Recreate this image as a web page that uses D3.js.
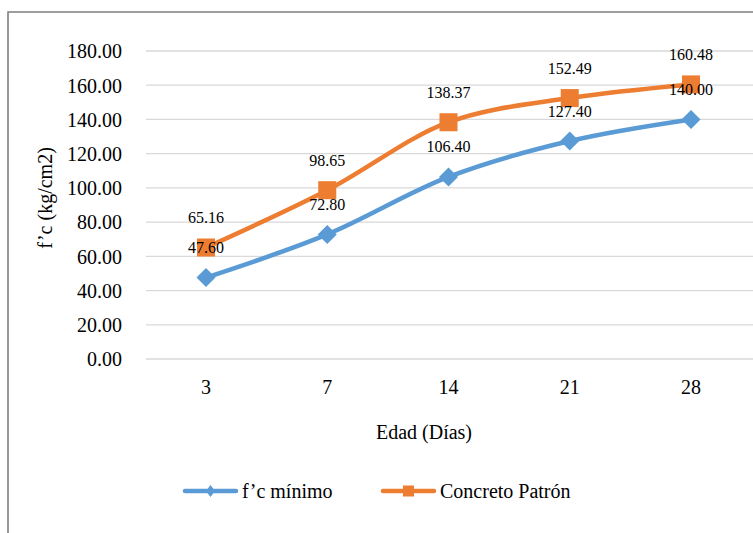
<!DOCTYPE html>
<html>
<head>
<meta charset="utf-8">
<script src="https://cdn.jsdelivr.net/npm/d3@7/dist/d3.min.js"></script>
<style>
  html, body { margin: 0; padding: 0; background: #fff; }
  svg { display: block; }
  svg text { font-family: "Liberation Serif", Tinos, "Times New Roman", "DejaVu Serif", serif; fill: #000; }
</style>
</head>
<body>
<svg id="chart" width="753" height="533"></svg>
<script>
// Compressive strength by curing age
const ages = ["3", "7", "14", "21", "28"];
const fcMinimo = [47.60, 72.80, 106.40, 127.40, 140.00];
const concretoPatron = [65.16, 98.65, 138.37, 152.49, 160.48];
const yTicks = [0, 20, 40, 60, 80, 100, 120, 140, 160, 180];
const seriesNames = ["f’c mínimo", "Concreto Patrón"];
const seriesColors = ["#5B9BD5", "#ED7D31"];

const FONT = "'Liberation Serif', Tinos, 'Times New Roman', 'DejaVu Serif', serif";
const svg = d3.select("#chart");

// outer chart frame
svg.append("path")
  .attr("d", "M8,533 L8,12 L753,12")
  .attr("fill", "none")
  .attr("stroke", "#7f7f7f")
  .attr("stroke-width", 1.6);

const x = d3.scaleBand().domain(ages).range([145.4, 751.6]);
const y = d3.scaleLinear().domain([0, 180]).range([359, 51]);
const cx = d => x(d) + x.bandwidth() / 2;

// horizontal gridlines
svg.append("g").selectAll("line").data(yTicks).join("line")
  .attr("x1", 146).attr("x2", 753)
  .attr("y1", d => y(d)).attr("y2", d => y(d))
  .attr("stroke", "#d9d9d9").attr("stroke-width", 1.3);

// y axis tick labels
const yAxis = d3.axisLeft(y).tickValues(yTicks).tickFormat(d3.format(".2f")).tickSize(0).tickPadding(0);
const yg = svg.append("g").attr("transform", "translate(122,0)").call(yAxis)
  .attr("font-family", FONT);
yg.select(".domain").remove();
yg.selectAll("text")
  .style("font-family", FONT)
  .attr("font-size", 20).attr("fill", "#000").attr("dy", "0.34em");

// x axis tick labels
const xAxis = d3.axisBottom(x).tickSize(0).tickPadding(0);
const xg = svg.append("g").attr("transform", "translate(0,359)").call(xAxis)
  .attr("font-family", FONT);
xg.select(".domain").remove();
xg.selectAll("text")
  .style("font-family", FONT)
  .attr("font-size", 20).attr("fill", "#000").attr("y", 0).attr("dy", 35);

// axis titles
svg.append("text")
  .attr("transform", "translate(52,198) rotate(-90)")
  .attr("text-anchor", "middle")
  .attr("font-size", 20)
  .text("f’c (kg/cm2)");

svg.append("text")
  .attr("x", 424).attr("y", 439)
  .attr("text-anchor", "middle")
  .attr("font-size", 20)
  .text("Edad (Días)");

const line = d3.line()
  .x((d, i) => cx(ages[i]))
  .y(d => y(d))
  .curve(d3.curveCatmullRom.alpha(0.5));

const allSeries = [fcMinimo, concretoPatron];

allSeries.forEach((vals, s) => {
  svg.append("path")
    .datum(vals)
    .attr("d", line)
    .attr("fill", "none")
    .attr("stroke", seriesColors[s])
    .attr("stroke-width", 4.5)
    .attr("stroke-linejoin", "round")
    .attr("stroke-linecap", "round");
});

// markers
svg.append("g").selectAll("path").data(fcMinimo).join("path")
  .attr("d", (d, i) => {
    const px = cx(ages[i]), py = y(d), r = 9.5;
    return `M${px},${py - r}L${px + r},${py}L${px},${py + r}L${px - r},${py}Z`;
  })
  .attr("fill", seriesColors[0]);

svg.append("g").selectAll("rect").data(concretoPatron).join("rect")
  .attr("x", (d, i) => cx(ages[i]) - 9)
  .attr("y", d => y(d) - 9)
  .attr("width", 18).attr("height", 18)
  .attr("fill", seriesColors[1]);

// data labels
allSeries.forEach((vals, s) => {
  svg.append("g").selectAll("text").data(vals).join("text")
    .attr("x", (d, i) => cx(ages[i]))
    .attr("y", d => y(d) - 24.5)
    .attr("text-anchor", "middle")
    .attr("font-size", 16)
    .text(d => d.toFixed(2));
});

// legend
const legend = [
  { x0: 183, tx: 242 },
  { x0: 381, tx: 440 }
];
legend.forEach((L, s) => {
  const g = svg.append("g");
  g.append("line")
    .attr("x1", L.x0 + 2).attr("x2", L.x0 + 53)
    .attr("y1", 491).attr("y2", 491)
    .attr("stroke", seriesColors[s]).attr("stroke-width", 4.5)
    .attr("stroke-linecap", "round");
  const mx = L.x0 + 27.5;
  if (s === 0) {
    g.append("path")
      .attr("d", `M${mx},485L${mx + 4.5},491L${mx},497L${mx - 4.5},491Z`)
      .attr("fill", seriesColors[0]);
  } else {
    g.append("rect")
      .attr("x", mx - 5.5).attr("y", 485.5).attr("width", 11).attr("height", 11)
      .attr("fill", seriesColors[1]);
  }
  g.append("text")
    .attr("x", L.tx).attr("y", 498)
    .attr("font-size", 20)
    .text(seriesNames[s]);
});
</script>
</body>
</html>
